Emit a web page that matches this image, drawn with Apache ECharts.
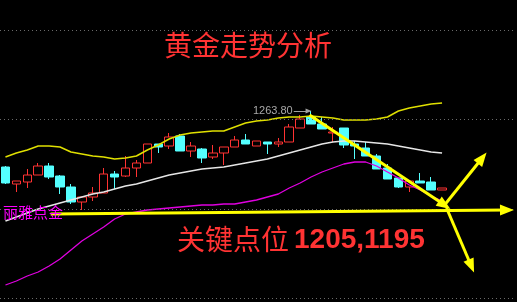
<!DOCTYPE html>
<html><head><meta charset="utf-8">
<script src="https://cdn.jsdelivr.net/npm/echarts@6/dist/echarts.min.js"></script>
<style>html,body{margin:0;padding:0;background:#000;}#c{width:517px;height:302px;}</style>
</head><body><div id="c"></div>
<script>
// category slots (41 candles + empty room on the right for the projection arrows)
const categories = ['1','2','3','4','5','6','7','8','9','10','11','12','13','14','15','16','17','18','19','20',
  '21','22','23','24','25','26','27','28','29','30','31','32','33','34','35','36','37','38','39','40','41',
  '42','43','44','45','46','47'];
// [open, close, low, high]
const candles = [
  [1230.2,1220.6,1220.0,1230.8],[1220.0,1221.8,1215.2,1221.8],[1221.2,1225.4,1217.6,1229.0],[1225.4,1230.8,1225.4,1232.6],
  [1230.8,1224.2,1223.0,1232.6],[1224.8,1218.2,1214.0,1225.4],[1218.2,1209.2,1208.0,1220.0],[1209.2,1212.2,1204.4,1212.2],
  [1212.2,1214.6,1209.8,1218.2],[1214.6,1226.0,1214.6,1229.6],[1226.0,1224.2,1217.0,1227.8],[1224.8,1229.6,1224.2,1236.8],
  [1229.6,1232.6,1224.2,1234.4],[1232.6,1244.0,1232.6,1244.0],[1244.0,1242.2,1238.6,1244.0],[1242.8,1248.2,1241.0,1250.6],
  [1248.8,1239.8,1239.8,1250.0],[1239.8,1242.8,1236.2,1245.2],[1241.0,1235.6,1232.6,1241.6],[1236.2,1238.6,1235.0,1243.4],
  [1238.6,1242.2,1231.4,1242.2],[1242.2,1246.4,1242.2,1248.8],[1246.4,1244.0,1244.0,1250.0],[1242.8,1245.8,1242.8,1245.8],
  [1245.2,1244.0,1238.0,1245.2],[1244.0,1245.2,1242.2,1247.6],[1245.2,1254.2,1245.2,1256.0],[1253.6,1259.0,1253.6,1261.4],
  [1260.2,1256.0,1256.0,1263.8],[1256.0,1253.0,1253.0,1260.2],[1250.6,1251.2,1245.2,1254.2],[1253.6,1243.4,1241.6,1253.6],
  [1244.0,1242.8,1235.0,1245.8],[1241.6,1236.8,1236.8,1245.2],[1236.8,1229.0,1229.0,1238.0],[1229.6,1223.0,1223.0,1232.0],
  [1223.6,1218.2,1217.6,1223.6],[1218.2,1221.8,1215.2,1221.8],[1221.8,1220.6,1220.6,1226.6],[1221.2,1216.4,1216.4,1224.2],
  [1216.4,1217.6,1216.4,1217.6]
];
const upperBand = [1236.2,1238.6,1240.4,1242.8,1242.8,1242.2,1239.2,1238.0,1236.8,1236.2,1235.0,1235.6,1236.8,1240.4,
  1243.4,1247.0,1249.4,1250.6,1251.2,1251.8,1251.8,1254.2,1256.6,1257.8,1258.4,1259.6,1260.2,1260.2,1260.8,1260.2,
  1259.6,1258.4,1258.4,1258.4,1259.0,1260.2,1263.8,1265.6,1266.8,1268.0,1268.6];
const midBand = [1197.8,1200.2,1202.6,1205.0,1206.8,1208.6,1210.4,1212.2,1214.0,1215.2,1217.0,1218.8,1220.0,1221.8,
  1223.6,1225.4,1226.6,1227.8,1229.0,1229.6,1230.2,1231.4,1232.6,1233.8,1235.0,1236.8,1238.6,1240.4,1242.2,1244.0,
  1245.2,1245.8,1245.8,1245.2,1244.6,1244.0,1242.8,1241.6,1240.4,1239.2,1238.6];
const lowerBand = [1159.4,1161.8,1164.8,1167.2,1170.8,1175.0,1180.4,1185.8,1190.0,1194.2,1199.0,1202.0,1203.2,1204.4,
  1205.0,1205.6,1206.2,1206.8,1207.4,1207.4,1208.0,1208.0,1209.2,1210.4,1212.2,1214.0,1217.6,1220.6,1224.2,1227.2,
  1229.6,1232.0,1233.2,1233.2,1230.8,1227.2,1223.6,1219.4,1216.4,1212.8,1209.8];
const gridLevels = [1312.4, 1258.7, 1205.0, 1151.3];
// projection arrows: [startIndex, startPrice, endIndex, endPrice]
const arrows = [
  [27.86,1261.4,40.23,1207.4],
  [40.23,1207.4,43.68,1235.6],
  [4.14,1202.0,45.95,1204.4],
  [40.41,1205.6,42.68,1170.8]
];
const peakText = '1263.80';
const peakMark = [26.41,1263.8,27.77,1263.8];
const titleText = '黄金走势分析';
const keyText = '关键点位';
const keyLevels = '1205,1195';
const brandText = '丽雅点金';

const chart = echarts.init(document.getElementById('c'));
chart.setOption({
  animation:false,
  backgroundColor:'#000',
  grid:{left:-4,right:4,top:0,bottom:0,containLabel:false},
  xAxis:[
    {type:'category',data:categories,show:false,boundaryGap:true},
    {type:'value',min:-0.5,max:46.5,show:false}
  ],
  yAxis:{type:'value',min:1149.2,max:1330.4,show:false,splitLine:{show:false}},
  series:[
    {type:'candlestick',data:candles,barWidth:9,z:2,
      itemStyle:{color:'#000',color0:'#54ffff',borderColor:'#ff3232',borderColor0:'#54ffff',borderWidth:1},
      markLine:{silent:true,symbol:'none',label:{show:false},
        lineStyle:{color:'#6a6a6a',type:[1,3],width:1},
        data:gridLevels.map(v=>({yAxis:v}))}
    },
    {type:'line',data:upperBand,symbol:'none',z:3,lineStyle:{color:'#e0e000',width:1.5}},
    {type:'line',data:midBand,symbol:'none',z:3,lineStyle:{color:'#e6e6e6',width:1.5}},
    {type:'line',data:lowerBand,symbol:'none',z:3,lineStyle:{color:'#e000e0',width:1.3}},
    {type:'line',xAxisIndex:1,data:[],z:5,
      markLine:{silent:true,symbol:['none','triangle'],symbolSize:[11,14],label:{show:false},
        lineStyle:{color:'#ffff00',width:3,type:'solid'},
        data:arrows.map(a=>[{coord:[a[0],a[1]]},{coord:[a[2],a[3]]}])}
    },
    {type:'line',xAxisIndex:1,data:[],z:5,
      markLine:{silent:true,symbol:['none','triangle'],symbolSize:[5,6],
        lineStyle:{color:'#a0a0a0',width:1,type:'solid'},
        label:{show:true,position:'start',formatter:peakText,color:'#a8a8a8',fontSize:11,distance:1,
          fontFamily:'Liberation Sans'},
        data:[[{coord:[peakMark[0],peakMark[1]]},{coord:[peakMark[2],peakMark[3]]}]]}
    }
  ],
  graphic:[
    {type:'text',x:248,y:31,z:10,style:{text:titleText,fill:'#ff3333',font:'28px "Noto Sans CJK SC"',textAlign:'center',textVerticalAlign:'top'}},
    {type:'text',x:177,y:225,z:10,style:{text:keyText,fill:'#ff3333',font:'28px "Noto Sans CJK SC"',textAlign:'left',textVerticalAlign:'top'}},
    {type:'text',x:294,y:226,z:10,style:{text:keyLevels,fill:'#ff3333',font:'bold 28px "Liberation Sans"',textAlign:'left',textVerticalAlign:'top'}},
    {type:'text',x:3,y:205,z:10,style:{text:brandText,fill:'#ff00ff',font:'15px "Noto Sans CJK SC"',textAlign:'left',textVerticalAlign:'top'}}
  ]
});
</script></body></html>
